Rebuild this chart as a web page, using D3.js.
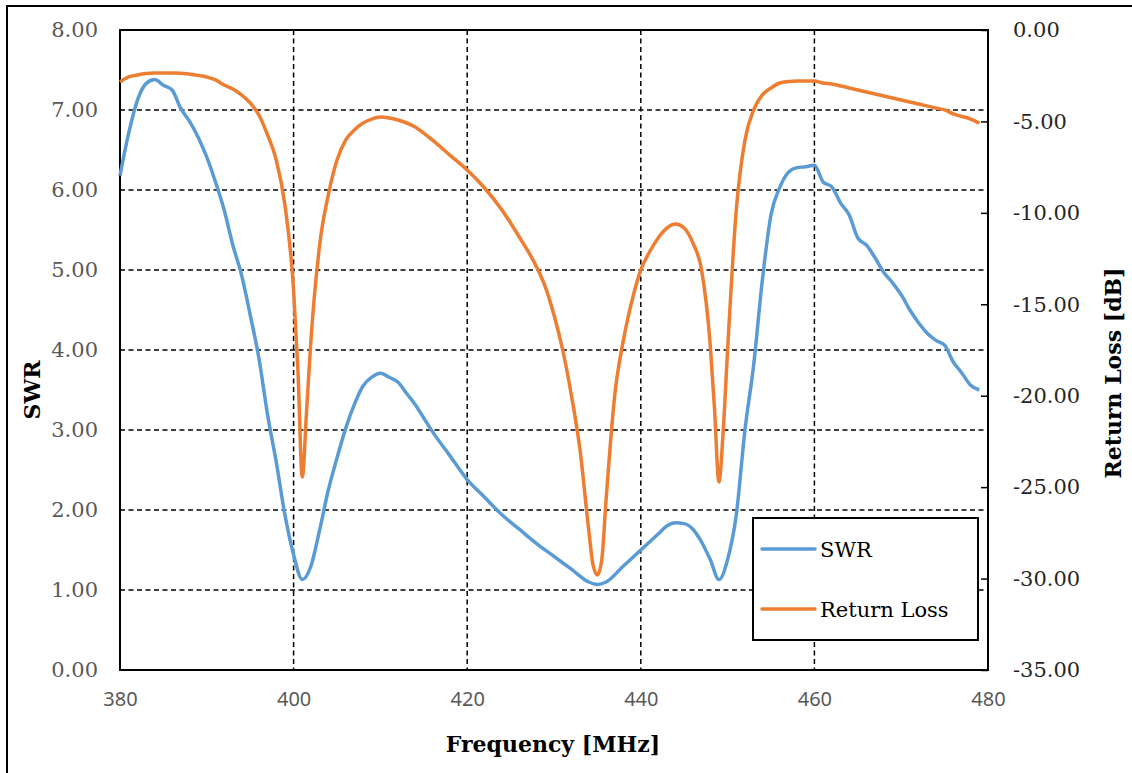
<!DOCTYPE html>
<html>
<head>
<meta charset="utf-8">
<script src="https://cdn.jsdelivr.net/npm/d3@7"></script>
<style>
  body { margin: 0; background: #fff; }
  svg { display: block; }
</style>
</head>
<body>
<div id="chart"></div>
<script>
// SWR readings
const swrFreq = [380,381,382,383,384,385,386,387,388,389,390,391,392,393,394,395,396,397,398,399,
  400,401,402,403,404,405,406,407,408,409,410,411,412,413,414,415,416,418,420,422,424,426,428,430,
  432,434,435,436,438,440,442,443,444,445,446,447,448,449,450,451,452,453,454,455,456,457,458,459,
  460,461,462,463,464,465,466,467,468,469,470,471,472,473,474,475,476,477,478,479];
const swrValues = [6.18,6.71,7.12,7.33,7.38,7.31,7.25,7.02,6.86,6.66,6.41,6.1,5.75,5.31,4.94,4.44,3.9,3.19,2.6,1.94,
  1.44,1.13,1.3,1.75,2.25,2.65,3.02,3.32,3.55,3.66,3.71,3.66,3.6,3.46,3.32,3.15,2.98,2.68,2.38,2.16,1.94,1.76,1.58,1.42,
  1.26,1.1,1.07,1.1,1.3,1.5,1.7,1.8,1.84,1.83,1.76,1.6,1.38,1.13,1.38,1.94,3.0,3.81,4.87,5.69,6.03,6.22,6.28,6.29,
  6.31,6.1,6.04,5.84,5.69,5.4,5.31,5.15,4.97,4.84,4.69,4.5,4.34,4.21,4.12,4.06,3.85,3.71,3.56,3.5];

// Return loss readings [dB]
const rlFreq = [380,381,382,383,384,386,388,390,391,392,393,394,395,396,397,398,399,400,400.5,401,401.5,
  402,403,404,405,406,407,408,409,410,411,412,414,416,418,420,422,424,426,428,429,430,431,432,433,434,434.5,
  435,435.5,436,437,438,439,440,441,442,443,444,445,446,447,448,448.5,449,449.5,450,451,452,453,454,455,
  456,457,458,460,461,462,464,466,468,470,472,474,475,476,478,479];
const rlValues = [-2.84,-2.57,-2.46,-2.38,-2.35,-2.35,-2.41,-2.57,-2.73,-3.01,-3.23,-3.55,-3.99,-4.65,-5.74,-7.11,-9.57,-14.22,-18.6,-24.45,-20.8,
  -16.95,-11.76,-9.02,-7.11,-6.02,-5.47,-5.09,-4.87,-4.76,-4.81,-4.92,-5.3,-6.02,-6.84,-7.66,-8.64,-9.84,-11.32,-12.96,-14.05,-15.59,-17.5,-19.96,-22.97,-27.34,-29.26,
  -29.8,-28.98,-25.7,-19.96,-16.95,-14.77,-13.12,-12.14,-11.37,-10.83,-10.61,-10.83,-11.65,-13.12,-17.23,-20.78,-24.72,-21.88,-17.5,-9.84,-6.02,-4.37,-3.55,-3.17,
  -2.9,-2.82,-2.79,-2.79,-2.9,-2.95,-3.17,-3.39,-3.61,-3.83,-4.05,-4.27,-4.37,-4.59,-4.87,-5.09];

const xTicks = [380, 400, 420, 440, 460, 480];
const swrTicks = [0, 1, 2, 3, 4, 5, 6, 7, 8];
const rlTicks = [0, -5, -10, -15, -20, -25, -30, -35];
const seriesNames = ["SWR", "Return Loss"];
const seriesColors = ["#5B9BD5", "#ED7D31"];

const width = 1132, height = 773;
const margin = { top: 30, right: 144, bottom: 103, left: 120 };
const innerWidth = width - margin.left - margin.right;
const innerHeight = height - margin.top - margin.bottom;

// plain hyphen minus, two decimals
const fmt = d => d.toFixed(2);

const svg = d3.select("#chart").append("svg")
  .attr("width", width)
  .attr("height", height);

// outer chart frame (right and bottom edges fall outside the picture)
svg.append("path")
  .attr("d", `M7,${height} V6 H${width}`)
  .attr("fill", "none")
  .attr("stroke", "#000")
  .attr("stroke-width", 2);

const g = svg.append("g")
  .attr("transform", `translate(${margin.left},${margin.top})`);

const x = d3.scaleLinear().domain([380, 480]).range([0, innerWidth]);
const ySwr = d3.scaleLinear().domain([0, 8]).range([innerHeight, 0]);
const yRl = d3.scaleLinear().domain([-35, 0]).range([innerHeight, 0]);

// dashed grid
g.append("g")
  .selectAll("line")
  .data(swrTicks.filter(d => d > 0 && d < 8))
  .join("line")
  .attr("x1", 0).attr("x2", innerWidth)
  .attr("y1", d => ySwr(d)).attr("y2", d => ySwr(d))
  .attr("stroke", "#000").attr("stroke-width", 1.5)
  .attr("stroke-dasharray", "5,3.5");

g.append("g")
  .selectAll("line")
  .data(xTicks.filter(d => d > 380 && d < 480))
  .join("line")
  .attr("x1", d => x(d)).attr("x2", d => x(d))
  .attr("y1", 0).attr("y2", innerHeight)
  .attr("stroke", "#000").attr("stroke-width", 1.5)
  .attr("stroke-dasharray", "5,3.5");

// left axis
const leftAxis = g.append("g")
  .call(d3.axisLeft(ySwr).tickValues(swrTicks).tickSize(0).tickPadding(22).tickFormat(fmt));
leftAxis.select(".domain").remove();
leftAxis.selectAll("text")
  .attr("font-family", "'DejaVu Serif', serif")
  .attr("font-size", 21)
  .attr("fill", "#595959");

// right axis
const rightAxis = g.append("g")
  .attr("transform", `translate(${innerWidth},0)`)
  .call(d3.axisRight(yRl).tickValues(rlTicks).tickSize(-7).tickPadding(25).tickFormat(fmt));
rightAxis.select(".domain").remove();
rightAxis.selectAll("line").attr("stroke", "#000").attr("stroke-width", 1.5);
rightAxis.selectAll("text")
  .attr("font-family", "'DejaVu Serif', serif")
  .attr("font-size", 21)
  .attr("fill", "#262626");

// bottom axis
const bottomAxis = g.append("g")
  .attr("transform", `translate(0,${innerHeight})`)
  .call(d3.axisBottom(x).tickValues(xTicks).tickSize(0).tickPadding(22));
bottomAxis.select(".domain").remove();
bottomAxis.selectAll("text")
  .attr("font-family", "'Noto Sans', sans-serif")
  .attr("font-size", 20)
  .attr("fill", "#595959");

// plot frame
g.append("rect")
  .attr("width", innerWidth).attr("height", innerHeight)
  .attr("fill", "none")
  .attr("stroke", "#000")
  .attr("stroke-width", 2);

// series
const swrLine = d3.line()
  .x((d, i) => x(swrFreq[i]))
  .y(d => ySwr(d))
  .curve(d3.curveMonotoneX);

const rlLine = d3.line()
  .x((d, i) => x(rlFreq[i]))
  .y(d => yRl(d))
  .curve(d3.curveMonotoneX);

g.append("path")
  .datum(rlValues)
  .attr("d", rlLine)
  .attr("fill", "none")
  .attr("stroke", seriesColors[1])
  .attr("stroke-width", 3.5)
  .attr("stroke-linejoin", "round");

g.append("path")
  .datum(swrValues)
  .attr("d", swrLine)
  .attr("fill", "none")
  .attr("stroke", seriesColors[0])
  .attr("stroke-width", 3.5)
  .attr("stroke-linejoin", "round");

// axis titles
const titleFont = { family: "'DejaVu Serif', serif", size: 22 };

svg.append("text")
  .attr("transform", "translate(40,390) rotate(-90)")
  .attr("text-anchor", "middle")
  .attr("font-family", titleFont.family)
  .attr("font-weight", "bold")
  .attr("font-size", titleFont.size)
  .text("SWR");

svg.append("text")
  .attr("x", 553).attr("y", 752)
  .attr("text-anchor", "middle")
  .attr("font-family", titleFont.family)
  .attr("font-weight", "bold")
  .attr("font-size", titleFont.size)
  .text("Frequency [MHz]");

svg.append("text")
  .attr("transform", "translate(1121,373) rotate(-90)")
  .attr("text-anchor", "middle")
  .attr("font-family", titleFont.family)
  .attr("font-weight", "bold")
  .attr("font-size", titleFont.size)
  .text("Return Loss [dB]");

// legend
const legend = svg.append("g").attr("transform", "translate(753,518)");
legend.append("rect")
  .attr("width", 225).attr("height", 122)
  .attr("fill", "#fff")
  .attr("stroke", "#000")
  .attr("stroke-width", 2);

const items = legend.selectAll("g.item")
  .data(seriesNames)
  .join("g")
  .attr("class", "item")
  .attr("transform", (d, i) => `translate(0,${31 + i * 60})`);

items.append("line")
  .attr("x1", 9).attr("x2", 62)
  .attr("stroke", (d, i) => seriesColors[i])
  .attr("stroke-width", 3.5)
  .attr("stroke-linecap", "round");

items.append("text")
  .attr("x", 67).attr("y", 8)
  .attr("font-family", "'DejaVu Serif', serif")
  .attr("font-size", 21)
  .attr("fill", "#000")
  .text(d => d);
</script>
</body>
</html>
